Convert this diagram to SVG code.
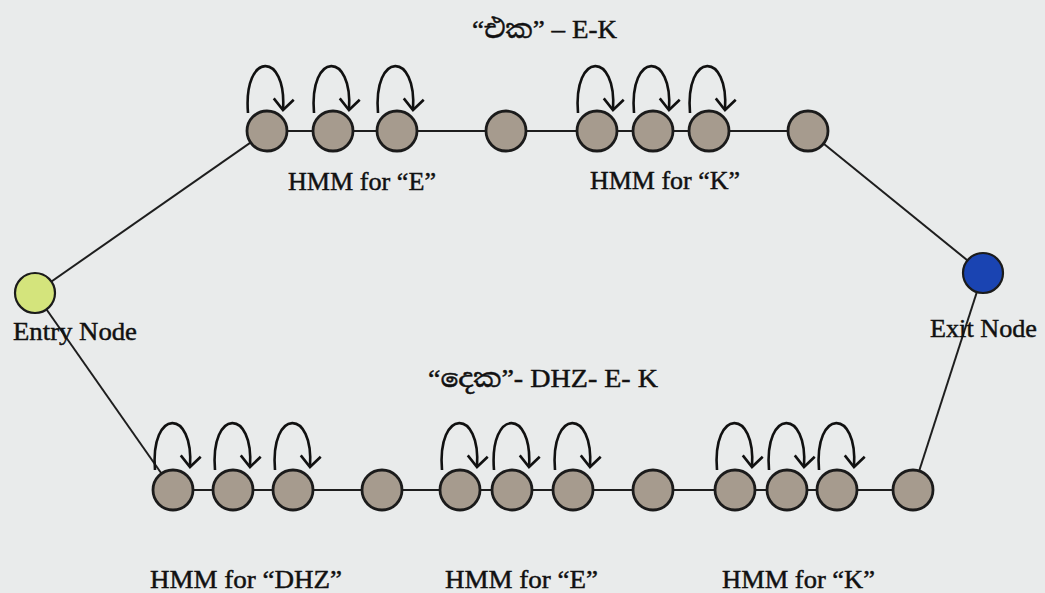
<svg xmlns="http://www.w3.org/2000/svg" width="1045" height="593" viewBox="0 0 1045 593">
<style>
.bg{fill:#e9ebeb}
.st{fill:#a69b8e;stroke:#1b1b1b;stroke-width:2.8}
.entry{fill:#d4e47c;stroke:#1b1b1b;stroke-width:2.2}
.exit{fill:#1a44b2;stroke:#1b1b1b;stroke-width:2.2}
.edge{stroke:#1e1e1e;stroke-width:2;fill:none}
.loop{stroke:#111;stroke-width:2.6;fill:none;marker-end:url(#ah)}
.lbl{font-family:"Liberation Serif","Noto Serif Sinhala","Noto Sans Sinhala",serif;font-size:26px;fill:#111;stroke:#111;stroke-width:0.45}
</style>
<defs>
<marker id="ah" markerUnits="userSpaceOnUse" markerWidth="30" markerHeight="30" viewBox="-15 -15 30 30" refX="0" refY="0" orient="auto">
<path d="M-11,-10 L0,0 L-11,10" fill="none" stroke="#111" stroke-width="2.6"/>
</marker>
</defs>
<rect class="bg" x="0" y="0" width="1045" height="593"/>
<g id="connectors">
<line class="edge" x1="35" y1="293" x2="267" y2="131"/>
<line class="edge" x1="35" y1="293" x2="173" y2="490"/>
<line class="edge" x1="267" y1="131" x2="808" y2="131"/>
<line class="edge" x1="808" y1="131" x2="983" y2="273"/>
<line class="edge" x1="173" y1="490" x2="913" y2="490"/>
<line class="edge" x1="913" y1="490" x2="983" y2="273"/>
<path class="loop" d="M248,113 C243,51 287,51 283,110"/>
<path class="loop" d="M314,113 C309,51 353,51 349,110"/>
<path class="loop" d="M378,113 C373,51 417,51 413,110"/>
<path class="loop" d="M578,113 C573,51 617,51 613,110"/>
<path class="loop" d="M634,113 C629,51 673,51 669,110"/>
<path class="loop" d="M690,113 C685,51 729,51 725,110"/>
<path class="loop" d="M155,470 C150,408 194,408 190,467"/>
<path class="loop" d="M215,470 C210,408 254,408 250,467"/>
<path class="loop" d="M275,470 C270,408 314,408 310,467"/>
<path class="loop" d="M442,470 C437,408 481,408 477,467"/>
<path class="loop" d="M494,470 C489,408 533,408 529,467"/>
<path class="loop" d="M555,470 C550,408 594,408 590,467"/>
<path class="loop" d="M717,470 C712,408 756,408 752,467"/>
<path class="loop" d="M769,470 C764,408 808,408 804,467"/>
<path class="loop" d="M819,470 C814,408 858,408 854,467"/>
</g>
<g id="entry"><circle class="entry" cx="35" cy="293" r="20"/><text class="lbl" x="13" y="340" textLength="124" lengthAdjust="spacingAndGlyphs">Entry Node</text></g>
<g id="exit"><circle class="exit" cx="983" cy="273" r="20"/><text class="lbl" x="930" y="337" textLength="107" lengthAdjust="spacingAndGlyphs">Exit Node</text></g>
<g id="top-e1"><circle class="st" cx="267" cy="131" r="20"/></g>
<g id="top-e2"><circle class="st" cx="333" cy="131" r="20"/></g>
<g id="top-e3"><circle class="st" cx="397" cy="131" r="20"/></g>
<g id="top-mid"><circle class="st" cx="506" cy="131" r="20"/></g>
<g id="top-k1"><circle class="st" cx="597" cy="131" r="20"/></g>
<g id="top-k2"><circle class="st" cx="653" cy="131" r="20"/></g>
<g id="top-k3"><circle class="st" cx="709" cy="131" r="20"/></g>
<g id="top-end"><circle class="st" cx="808" cy="131" r="20"/></g>
<g id="bot-d1"><circle class="st" cx="173" cy="490" r="20"/></g>
<g id="bot-d2"><circle class="st" cx="233" cy="490" r="20"/></g>
<g id="bot-d3"><circle class="st" cx="293" cy="490" r="20"/></g>
<g id="bot-mid1"><circle class="st" cx="382" cy="490" r="20"/></g>
<g id="bot-e1"><circle class="st" cx="460" cy="490" r="20"/></g>
<g id="bot-e2"><circle class="st" cx="512" cy="490" r="20"/></g>
<g id="bot-e3"><circle class="st" cx="573" cy="490" r="20"/></g>
<g id="bot-mid2"><circle class="st" cx="653" cy="490" r="20"/></g>
<g id="bot-k1"><circle class="st" cx="735" cy="490" r="20"/></g>
<g id="bot-k2"><circle class="st" cx="787" cy="490" r="20"/></g>
<g id="bot-k3"><circle class="st" cx="837" cy="490" r="20"/></g>
<g id="bot-end"><circle class="st" cx="913" cy="490" r="20"/></g>
<g id="labels">
<text class="lbl" x="472" y="38" textLength="145" lengthAdjust="spacingAndGlyphs">“එක” – E-K</text>
<text class="lbl" x="428" y="387" textLength="230" lengthAdjust="spacingAndGlyphs">“දෙක”- DHZ- E- K</text>
<text class="lbl" x="288" y="190" textLength="148" lengthAdjust="spacingAndGlyphs">HMM for “E”</text>
<text class="lbl" x="590" y="189" textLength="150" lengthAdjust="spacingAndGlyphs">HMM for “K”</text>
<text class="lbl" x="150" y="588" textLength="192" lengthAdjust="spacingAndGlyphs">HMM for “DHZ”</text>
<text class="lbl" x="445" y="588" textLength="153" lengthAdjust="spacingAndGlyphs">HMM for “E”</text>
<text class="lbl" x="722" y="588" textLength="153" lengthAdjust="spacingAndGlyphs">HMM for “K”</text>
</g>
</svg>
